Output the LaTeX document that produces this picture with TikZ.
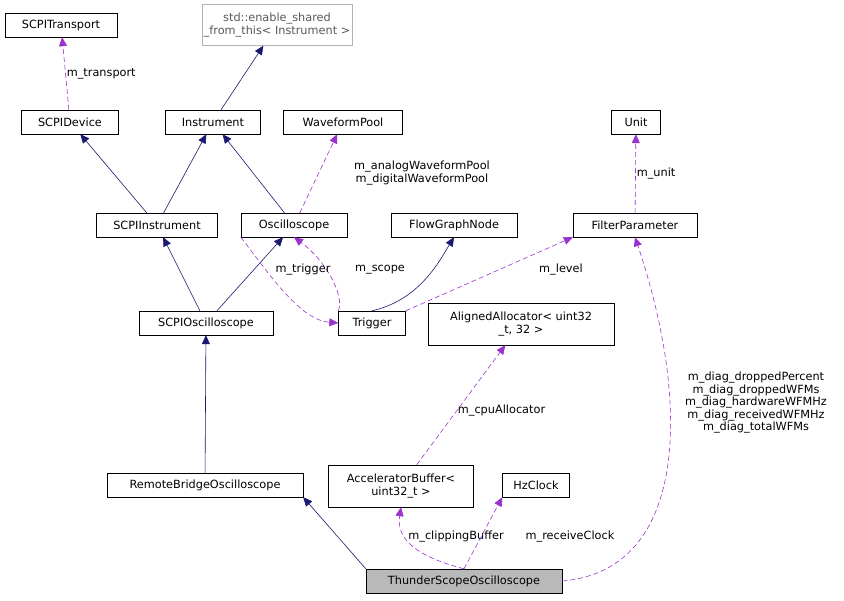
\documentclass[tikz,border=0pt]{standalone}
\usepackage{fontspec}
\setmainfont{DejaVu Sans}
\usetikzlibrary{arrows.meta}
\definecolor{inh}{HTML}{191970}
\definecolor{use}{HTML}{9A32CD}
\begin{document}
\begin{tikzpicture}[x=1pt,y=-1pt,
  every node/.style={font=\fontsize{11.3}{12.5}\selectfont},
  box/.style={draw=black,fill=white,minimum height=24pt,inner sep=2pt,align=center},
  inh/.style={draw=inh,semithick,-{Triangle[length=9pt,width=8pt]}},
  use/.style={draw=use,semithick,dash pattern=on 5pt off 3pt,-{Triangle[length=9pt,width=8pt]}},
  lab/.style={align=center,inner sep=1pt}]
\useasboundingbox (0,0) rectangle (844,601);
\node[box,minimum width=112pt] (tr) at (61,25) {SCPITransport};
\node[box,draw=gray!60,minimum width=112pt,minimum height=41pt,text=gray!70!black] (esf) at (277,25) {std::enable\_shared\\\_from\_this< Instrument >};
\node[box,minimum width=97pt] (dev) at (70,122) {SCPIDevice};
\node[box,minimum width=95pt] (ins) at (213,122) {Instrument};
\node[box,minimum width=119pt] (wp) at (343,122) {WaveformPool};
\node[box,minimum width=49pt] (unit) at (636,122) {Unit};
\node[box,minimum width=121pt] (si) at (157,225) {SCPIInstrument};
\node[box,minimum width=106pt] (osc) at (294,225) {Oscilloscope};
\node[box,minimum width=126pt] (fgn) at (454,225) {FlowGraphNode};
\node[box,minimum width=124pt] (fp) at (635,225) {FilterParameter};
\node[box,minimum width=134pt] (so) at (206,323) {SCPIOscilloscope};
\node[box,minimum width=67pt] (trig) at (372,323) {Trigger};
\node[box,minimum width=186pt,minimum height=42pt] (aa) at (521,324) {AlignedAllocator< uint32\\\_t, 32 >};
\node[box,minimum width=196pt] (rb) at (205,485) {RemoteBridgeOscilloscope};
\node[box,minimum width=145pt,minimum height=42pt] (ab) at (401,486) {AcceleratorBuffer<\\uint32\_t >};
\node[box,minimum width=67pt] (hz) at (536,485) {HzClock};
\node[box,fill=gray!55,minimum width=196pt] (ts) at (464,581) {ThunderScopeOscilloscope};

\draw[use] (dev) -- node[lab,right,pos=0.5] {m\_transport} (tr);
\draw[inh] (ins) -- (esf);
\draw[inh] (si) -- (dev);
\draw[inh] (si) -- (ins);
\draw[inh] (osc) -- (ins);
\draw[use] (osc) -- (wp);
\node[lab] at (422,173) {m\_analogWaveformPool\\m\_digitalWaveformPool};
\draw[use] (fp) -- node[lab,right] {m\_unit} (unit);
\draw[inh] (so) -- (si);
\draw[inh] (so) -- (osc);
\draw[inh] (trig.north) .. controls (420,300) and (440,260) .. (fgn.south);
\draw[use] (trig.north east) -- (fp.south west);
\node[lab] at (561,270) {m\_level};
\draw[use] (trig.north west) .. controls (345,295) and (325,260) .. (osc.south);
\node[lab] at (380,270) {m\_scope};
\draw[use] (osc.south west) .. controls (270,275) and (300,320) .. (trig.west);
\node[lab] at (303,270) {m\_trigger};
\draw[inh] (ts.north west) -- (rb.south east);
\draw[inh] (rb) -- (so);
\draw[use] (ab) -- node[lab,right,pos=0.45] {m\_cpuAllocator} (aa);
\draw[use] (ts.north) .. controls (430,560) and (395,545) .. (ab.south);
\node[lab] at (456,537) {m\_clippingBuffer};
\draw[use] (ts.north) -- (hz.south west);
\node[lab] at (570,537) {m\_receiveClock};
\draw[use] (ts.east) .. controls (690,570) and (690,400) .. (fp.south);
\node[lab] at (756,403) {m\_diag\_droppedPercent\\m\_diag\_droppedWFMs\\m\_diag\_hardwareWFMHz\\m\_diag\_receivedWFMHz\\m\_diag\_totalWFMs};
\end{tikzpicture}
\end{document}
